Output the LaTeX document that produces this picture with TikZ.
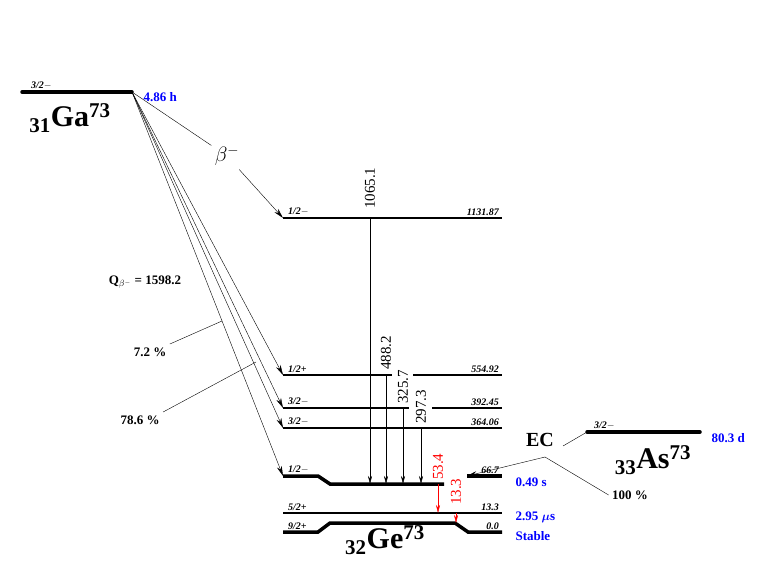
\documentclass[tikz,border=0pt]{standalone}
\usepackage{amsmath}
\usepackage{fontspec}
\setmainfont{Liberation Serif}
\usetikzlibrary{arrows.meta}
\begin{document}
\begin{tikzpicture}[x=1pt,y=-1pt,
    lvl/.style={line width=1.5pt},
    thk/.style={line width=3.5pt,line cap=round},
    spin/.style={font=\fontsize{10}{12}\selectfont\itshape\bfseries,anchor=south west,inner sep=1pt},
    en/.style={font=\fontsize{10}{12}\selectfont\itshape\bfseries,anchor=south east,inner sep=1pt},
    hl/.style={font=\fontsize{13}{15}\selectfont\bfseries,text=blue,anchor=west},
    lab/.style={font=\fontsize{13}{15}\selectfont\bfseries},
    nuc/.style={font=\fontsize{30}{34}\selectfont\bfseries},
    gam/.style={-{Stealth[length=8pt,width=4pt]},thin},
    beta/.style={-{Stealth[length=10pt,width=5pt]},thin},
    glab/.style={rotate=90,font=\fontsize{15}{17}\selectfont,inner sep=1pt,anchor=west}]
\useasboundingbox (0,0) rectangle (763,572);
% parent Ga
\draw[thk] (22,92) -- (132,92);
\node[spin] at (30,91) {3/2$-$};
\node[hl] at (140,97) {4.86 h};
\node[nuc] (ga) at (70,118) {$_{\mathbf{31}}$Ga$^{\mathbf{73}}$};
\coordinate (gatop) at (132,92);
% daughter levels
\draw[lvl] (283,218) coordinate (l1132) -- (502,218);
\draw[lvl] (283,375) coordinate (l555) -- (392,375) (413,375) -- (502,375);
\draw[lvl] (283,408) coordinate (l392) -- (409,408) (432,408) -- (502,408);
\draw[lvl] (283,428) coordinate (l364) -- (502,428);
\draw[thk,line cap=butt] (283,476) coordinate (l67) -- (318,476) -- (330,484) -- (444,484);
\draw[thk,line cap=butt] (467,476) coordinate (r67) -- (502,476);
\draw[lvl] (283,513) -- (502,513);
\draw[thk,line cap=butt] (283,532) -- (318,532) -- (330,523) -- (455,523) -- (468,532) -- (502,532);
\foreach \y/\s/\e in {218/1\slash2$-$/1131.87, 375/1\slash2+/554.92, 408/3\slash2$-$/392.45,
    428/3\slash2$-$/364.06, 476/1\slash2$-$/66.7, 513/5\slash2+/13.3, 532/9\slash2+/0.0}{
  \node[spin] at (287,\y-1) {\s};
  \node[en] at (500,\y-1) {\e};
}
\node[nuc] (ge) at (385,540) {$_{\mathbf{32}}$Ge$^{\mathbf{73}}$};
\node[hl] at (512,482) {0.49 s};
\node[hl] at (512,517) {2.95 $\boldsymbol{\mu}$s};
\node[hl] at (512,536) {Stable};
% beta branches
\node[font=\fontsize{22}{24}\selectfont] (bl) at (227,156) {$\beta^{-}$};
\draw (gatop) -- (bl);
\draw[beta] (bl) -- (l1132);
\foreach \c in {l555,l392,l364,l67} \draw[beta] (gatop) -- (\c);
\node[lab] (q) at (145,282) {Q$_{\beta^-}$ = 1598.2};
\node[lab] (p72) at (150,352) {7.2 \%};
\node[lab] (p786) at (140,420) {78.6 \%};
\draw (p72.north east) -- (222,321);
\draw (p786.north east) -- (256,362);
% gammas
\draw[gam] (370,218) -- (370,484);
\node[glab] at (370,210) {1065.1};
\draw[gam] (386,375) -- (386,484);
\node[glab] at (386,371) {488.2};
\draw[gam] (403,408) -- (403,484);
\node[glab] at (403,405) {325.7};
\draw[gam] (421,428) -- (421,484);
\node[glab] at (421,425) {297.3};
\draw[gam,red] (438,484) -- (438,513);
\node[glab,text=red] at (438,481) {53.4};
\draw[gam,red] (456,513) -- (456,523);
\node[glab,text=red] at (456,506) {13.3};
% parent As
\draw[thk] (587,432) -- (700,432);
\node[spin] at (593,431) {3/2$-$};
\node[hl] at (708,438) {80.3 d};
\node[nuc] (as) at (653,460) {$_{\mathbf{33}}$As$^{\mathbf{73}}$};
\node[font=\fontsize{20}{22}\selectfont\bfseries] (ec) at (540,440) {EC};
\coordinate (astop) at (587,432);
\coordinate (ecb) at (545,457);
\draw (astop) -- (563,446);
\draw[beta] (ecb) -- (r67);
\node[lab] (p100) at (630,495) {100 \%};
\draw (ecb) -- (p100.west);
\end{tikzpicture}
\end{document}
